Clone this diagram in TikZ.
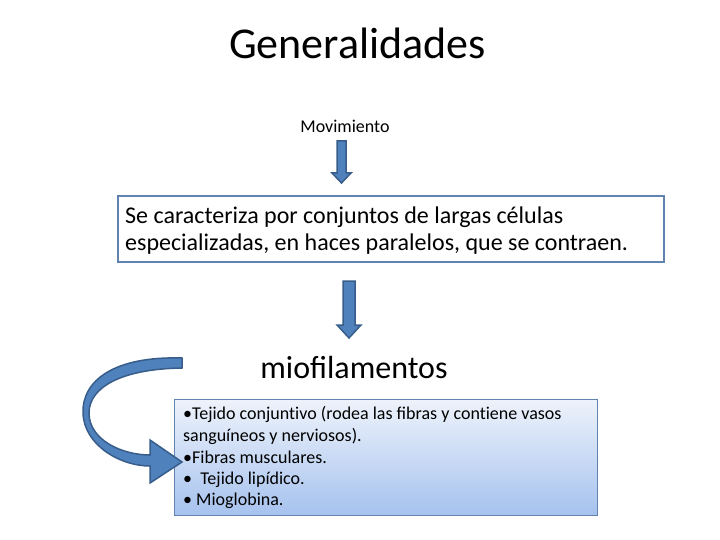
\documentclass[tikz,border=0pt]{standalone}
\usepackage{fontspec}
\setmainfont{Carlito}
\definecolor{arrowfill}{HTML}{4F81BD}
\definecolor{arrowdraw}{HTML}{385D8A}
\definecolor{boxline}{HTML}{6083B0}
\definecolor{gradtop}{HTML}{EEF3FB}
\definecolor{gradbot}{HTML}{A6C2EE}
\begin{document}
\begin{tikzpicture}[x=1pt,y=-1pt,
  blockarrow/.style={fill=arrowfill,draw=arrowdraw,line width=1.5pt,line join=miter},
  lbl/.style={inner sep=0pt,anchor=base},
  lblw/.style={inner sep=0pt,anchor=base west},
  boxtext/.style={lblw,font=\fontsize{18}{21}\selectfont}]
\useasboundingbox (0,0) rectangle (720,540);
% title
\node[lbl,font=\fontsize{44}{52}\selectfont] (title) at (357.5,59) {Generalidades};
\node[lbl,font=\fontsize{18}{21}\selectfont] (mov) at (345,133) {Movimiento};
% small arrow
\draw[blockarrow] (337,141) -- (346,141) -- (346,173) -- (351,173) -- (341.5,183) -- (332,173) -- (337,173) -- cycle;
% box 1
\node[draw=boxline,line width=2.5pt,minimum width=546pt,minimum height=66pt,inner sep=0pt] (box1) at (391,229) {};
\node[lblw,font=\fontsize{24}{28}\selectfont] (l1) at (125,223) {Se caracteriza por conjuntos de largas células};
\node[lblw,font=\fontsize{24}{28}\selectfont] (l2) at (125,251) {especializadas, en haces paralelos, que se contraen.};
% big arrow
\draw[blockarrow] (343,281) -- (355,281) -- (355,325) -- (361,325) -- (349,338) -- (337,325) -- (343,325) -- cycle;
% miofilamentos
\node[lbl,font=\fontsize{32}{38}\selectfont] (mio) at (354,378) {miofilamentos};
% box 2
\node[draw=boxline,line width=1pt,top color=gradtop,bottom color=gradbot,minimum width=423pt,minimum height=116pt,inner sep=0pt] (box2) at (385.5,457) {};
\node[boxtext] (b1) at (183,419) {•Tejido conjunt\kern0pt ivo (rodea las fibras y cont\kern0pt iene vasos};
\node[boxtext] (b2) at (183,441) {sanguíneos y nerviosos).};
\node[boxtext] (b3) at (183,463) {•Fibras musculares.};
\node[boxtext] (b4) at (183,484) {•\ \ Tejido lipídico.};
\node[boxtext] (b5) at (183,505) {•\ Mioglobina.};
% curved arrow
\draw[blockarrow] (182,358) .. controls (115,356) and (82,380) .. (83,413)
  .. controls (84,445) and (120,466) .. (150,466) -- (150,483) -- (182,462) -- (150,440) -- (150,455)
  .. controls (122,455) and (89,440) .. (89,413)
  .. controls (89,388) and (120,369) .. (182,368) -- cycle;
\end{tikzpicture}
\end{document}
